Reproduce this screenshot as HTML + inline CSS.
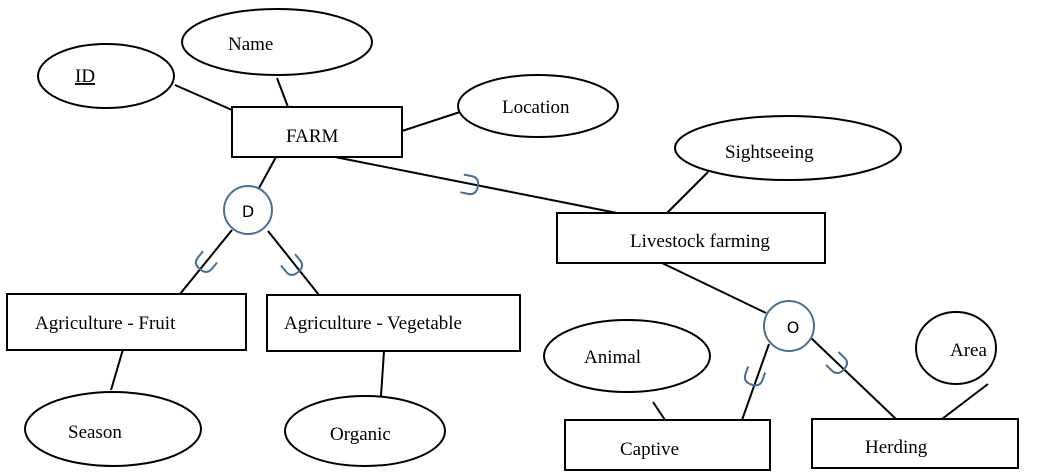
<!DOCTYPE html>
<html><head><meta charset="utf-8"><style>
html,body{margin:0;padding:0;background:#fff;}
svg{display:block;}
text{font-family:"Liberation Serif",serif;font-size:19px;fill:#000;}
</style></head><body>
<svg width="1045" height="475" viewBox="0 0 1045 475" xmlns="http://www.w3.org/2000/svg">
<defs>
<path id="u" d="M -9 -8 L -9 0 Q -9 8 0 8 Q 9 8 9 0 L 9 -8" fill="none" stroke="#4a6f96" stroke-width="2"/>
</defs>
<g stroke="#000" stroke-width="2" fill="none">
<line x1="175" y1="85" x2="232" y2="110"/>
<line x1="277" y1="78" x2="288" y2="107"/>
<line x1="402" y1="131" x2="460" y2="112"/>
<line x1="276" y1="157" x2="259" y2="188"/>
<line x1="335" y1="157" x2="617" y2="213"/>
<line x1="708" y1="172" x2="667" y2="213"/>
<line x1="232" y1="230" x2="180" y2="294"/>
<line x1="268" y1="231" x2="319" y2="295"/>
<line x1="124" y1="346" x2="111" y2="390"/>
<line x1="384" y1="351" x2="381" y2="396"/>
<line x1="662" y1="263" x2="766" y2="313"/>
<line x1="769" y1="344" x2="742" y2="420"/>
<line x1="810" y1="337" x2="896" y2="419"/>
<line x1="988" y1="384" x2="942" y2="419"/>
<line x1="653" y1="402" x2="665" y2="420"/>
<ellipse cx="106" cy="76" rx="68" ry="32" fill="#fff"/>
<ellipse cx="277" cy="42" rx="95" ry="33" fill="#fff"/>
<ellipse cx="538" cy="106" rx="80" ry="31" fill="#fff"/>
<ellipse cx="788" cy="148" rx="113" ry="32" fill="#fff"/>
<ellipse cx="627" cy="356" rx="83" ry="36" fill="#fff"/>
<ellipse cx="956" cy="348" rx="40" ry="36" fill="#fff"/>
<ellipse cx="113" cy="429" rx="88" ry="37" fill="#fff"/>
<ellipse cx="365" cy="431" rx="80" ry="35" fill="#fff"/>
<rect x="232" y="107" width="170" height="50" fill="#fff"/>
<rect x="557" y="213" width="268" height="50" fill="#fff"/>
<rect x="7" y="294" width="239" height="56" fill="#fff"/>
<rect x="267" y="295" width="253" height="56" fill="#fff"/>
<rect x="565" y="420" width="205" height="50" fill="#fff"/>
<rect x="812" y="419" width="206" height="49" fill="#fff"/>
</g>
<circle cx="248" cy="210" r="24" fill="#fff" stroke="#4a6f96" stroke-width="2"/>
<circle cx="789" cy="326" r="25" fill="#fff" stroke="#4a6f96" stroke-width="2"/>
<use href="#u" transform="translate(205,263) rotate(39)"/>
<use href="#u" transform="translate(293,266) rotate(-38.5)"/>
<use href="#u" transform="translate(470,185) rotate(-79)"/>
<use href="#u" transform="translate(754,377) rotate(19.6)"/>
<use href="#u" transform="translate(838,364) rotate(-46.4)"/>
<text x="75" y="82" text-decoration="underline">ID</text>
<text x="228" y="50">Name</text>
<text x="502" y="113">Location</text>
<text x="725" y="158">Sightseeing</text>
<text x="286" y="142">FARM</text>
<text x="630" y="247">Livestock farming</text>
<text x="35" y="329">Agriculture - Fruit</text>
<text x="284" y="329">Agriculture - Vegetable</text>
<text x="68" y="438">Season</text>
<text x="330" y="440">Organic</text>
<text x="584" y="363">Animal</text>
<text x="950" y="356">Area</text>
<text x="620" y="455">Captive</text>
<text x="865" y="453">Herding</text>
<text x="248" y="217" text-anchor="middle" style="font-family:'DejaVu Sans',sans-serif;font-size:16px">D</text>
<text x="793" y="333" text-anchor="middle" style="font-family:'DejaVu Sans',sans-serif;font-size:16px">O</text>
</svg>
</body></html>
